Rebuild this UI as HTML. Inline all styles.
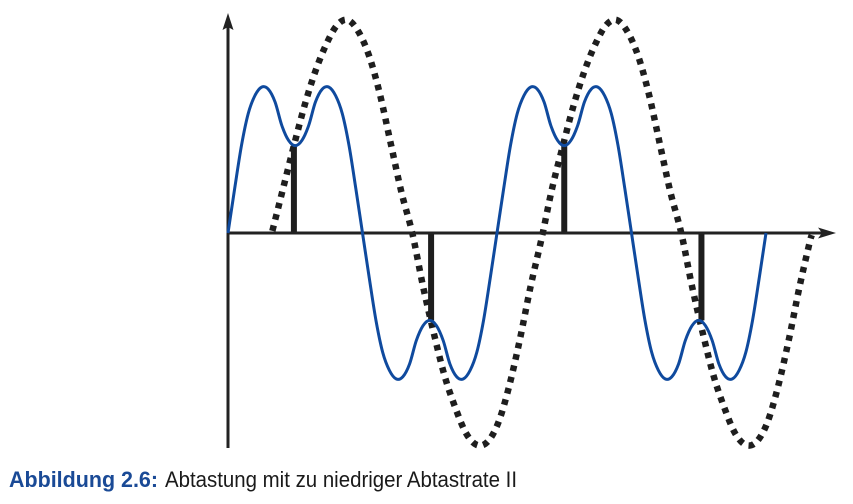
<!DOCTYPE html>
<html>
<head>
<meta charset="utf-8">
<style>
html,body{margin:0;padding:0;background:#fff;}
svg{display:block;}
text{font-family:"Liberation Sans",sans-serif;font-size:22px;}
</style>
</head>
<body>
<svg id="chart" xmlns="http://www.w3.org/2000/svg" width="853" height="504" viewBox="0 0 853 504">
  <g id="sampled-layer"></g>
  <g id="stems-layer"></g>
  <line id="y-axis" x1="228" y1="448" x2="228" y2="24" stroke="#222" stroke-width="3"/>
  <polygon points="228,13 233.5,30 228,27 222.5,30" fill="#222"/>
  <line id="x-axis" x1="228" y1="233" x2="826" y2="233" stroke="#222" stroke-width="3"/>
  <polygon points="836,233 818,227.5 822,233 818,238.5" fill="#222"/>
  <g id="original-layer"></g>
  <text x="9" y="487" font-weight="bold" fill="#1a4a96" textLength="149" lengthAdjust="spacingAndGlyphs">Abbildung 2.6:</text>
  <text x="165" y="487" fill="#1a1a1a" textLength="352" lengthAdjust="spacingAndGlyphs">Abtastung mit zu niedriger Abtastrate II</text>
</svg>
<script>
const blueTimes = [0,5,10,15,20,25,30,35,40,45,50,55,60,65,70,75,80,85,90,95,100,
  105,110,115,120,125,130,135,140,145,150,155,160,165,170,175,180,185,190,195,200,
  205,210,215,220,225,230,235,240,245,250,255,260,265,270,275,280,285,290,295,300,
  305,310,315,320,325,330,335,340,345,350,355,360,365,370,375,380,385,390,395,400];
const blueValues = [0,21,41,56,64.5,68.5,67.5,61.5,50.5,43.5,41,43.5,50.5,61.5,67.5,68.5,64.5,56,41,21,0,
  -21,-41,-56,-64.5,-68.5,-67.5,-61.5,-50.5,-43.5,-41,-43.5,-50.5,-61.5,-67.5,-68.5,-64.5,-56,-41,-21,0,
  21,41,56,64.5,68.5,67.5,61.5,50.5,43.5,41,43.5,50.5,61.5,67.5,68.5,64.5,56,41,21,0,
  -21,-41,-56,-64.5,-68.5,-67.5,-61.5,-50.5,-43.5,-41,-43.5,-50.5,-61.5,-67.5,-68.5,-64.5,-56,-41,-21,0];
const dottedTimes = [33,41,49,57,65,73,81,89,97,105,113,121,129,137,
  145,153,161,169,177,185,193,201,209,217,225,233,
  241,249,257,265,273,281,289,297,305,313,321,329,337,
  345,353,361,369,377,385,393,401,409,417,425,433,434];
const dottedValues = [1,21,41,60,76,88.5,97.5,100,94.5,83,65,42,19,0,
  -25,-47,-67,-82,-94,-99.5,-98,-89,-72,-50,-25,-3,
  21,41,60,76,88.5,97.5,100,94.5,83,65,42,19,0,
  -25,-47,-67,-82,-94,-99.5,-98,-89,-72,-50,-25,-3,-1];
const sampleTimes = [49,151,250,352];
const sampleValues = [41,-41,41,-41];

const SVG_NS = 'http://www.w3.org/2000/svg';
function xScale(t){ return 228 + t * 1.345; }
function yScale(v){ return 233 - v * 2.13; }

function smoothPath(times, values){
  const p = times.map(function(t,i){ return [xScale(t), yScale(values[i])]; });
  function slope(i){
    const a = p[Math.max(i-1,0)], c = p[Math.min(i+1,p.length-1)];
    return (c[1]-a[1])/(c[0]-a[0]);
  }
  let d = 'M' + p[0][0].toFixed(2) + ' ' + p[0][1].toFixed(2);
  for(let i = 0; i < p.length - 1; i++){
    const b = p[i], c = p[i+1], h = (c[0]-b[0])/3;
    d += 'C' + (b[0]+h).toFixed(2) + ' ' + (b[1]+slope(i)*h).toFixed(2) + ' ' + (c[0]-h).toFixed(2) + ' ' + (c[1]-slope(i+1)*h).toFixed(2) + ' ' + c[0].toFixed(2) + ' ' + c[1].toFixed(2);
  }
  return d;
}

const dotted = document.createElementNS(SVG_NS,'path');


dotted.setAttribute('d', smoothPath(dottedTimes, dottedValues));
dotted.setAttribute('fill', 'none');
dotted.setAttribute('stroke', '#1e1e1e');
dotted.setAttribute('stroke-width', '6.5');
dotted.setAttribute('stroke-dasharray', '5.6 6');
document.getElementById('sampled-layer').appendChild(dotted);

sampleTimes.forEach(function(t,i){
  const s = document.createElementNS(SVG_NS,'line');
  
  
  s.setAttribute('x1', xScale(t));
  s.setAttribute('x2', xScale(t));
  s.setAttribute('y1', yScale(0));
  s.setAttribute('y2', yScale(sampleValues[i]));
  s.setAttribute('stroke', '#1e1e1e');
  s.setAttribute('stroke-width', '6');
  document.getElementById('stems-layer').appendChild(s);
});

const blue = document.createElementNS(SVG_NS,'path');


blue.setAttribute('d', smoothPath(blueTimes, blueValues));
blue.setAttribute('fill', 'none');
blue.setAttribute('stroke', '#0f4a9e');
blue.setAttribute('stroke-width', '3');
document.getElementById('original-layer').appendChild(blue);
</script>
</body>
</html>
